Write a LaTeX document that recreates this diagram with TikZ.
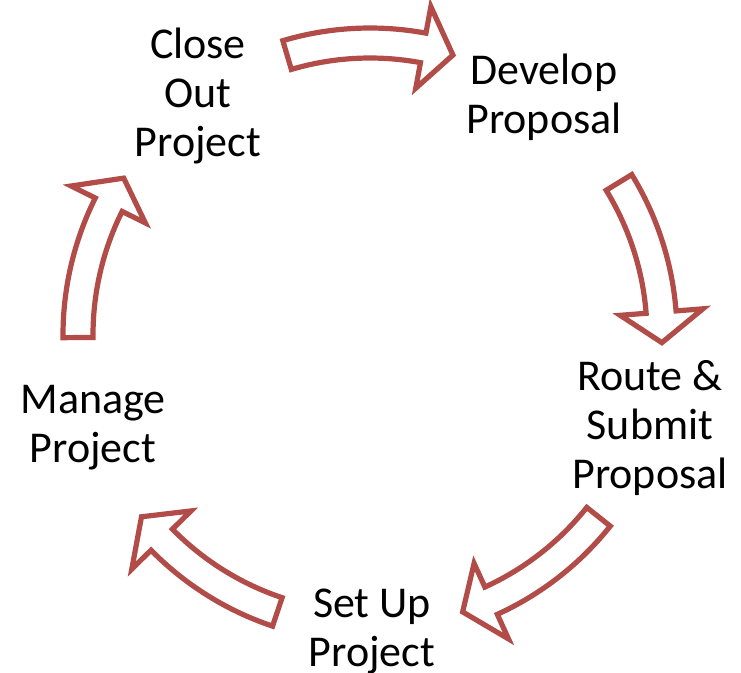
\documentclass[tikz,border=0pt]{standalone}
\usepackage{fontspec}
\setmainfont{Carlito}
\definecolor{arrowred}{RGB}{178,76,72}
\tikzset{
  stage/.style={align=center, inner sep=0pt, font=\fontsize{44}{49}\selectfont},
  cyclearrow/.style={draw=arrowred, fill=white, line width=5.2pt, line join=miter}
}
\begin{document}
\begin{tikzpicture}[x=1pt, y=1pt]
    % 画布大小
    \useasboundingbox (0,0) rectangle (741,-672);

    % 圆心与半径
    \coordinate (O) at (370,-335);
    \pgfmathsetmacro{\rm}{292}  % 箭头中线半径
    \pgfmathsetmacro{\ri}{277}  % 箭身内侧
    \pgfmathsetmacro{\ro}{307}  % 箭身外侧
    \pgfmathsetmacro{\hi}{251}  % 箭头内侧
    \pgfmathsetmacro{\ho}{334}  % 箭头外侧

    % 五个步骤
    \node[stage] (close)   at (198,-96)  {Close\\Out\\Project};
    \node[stage] (develop) at (544,-97)  {Develop\\Proposal};
    \node[stage] (route)   at (650,-428) {Route \&\\Submit\\Proposal};
    \node[stage] (setup)   at (372,-631) {Set Up\\Project};
    \node[stage] (manage)  at (93,-428)  {Manage\\Project};

    % 弯曲的空心箭头 (中心角)
    \foreach \c in {90, 15, -55, -125, 164} {
        \pgfmathsetmacro{\ta}{\c + 16.5}  % 箭尾
        \pgfmathsetmacro{\pa}{\c - 16.5}  % 箭尖
        \pgfmathsetmacro{\ha}{\pa + 6}    % 箭头根部
        \draw[cyclearrow, shift={(O)}]
            (\ta:\ro) arc[start angle=\ta, end angle=\ha, radius=\ro]
            -- (\ha:\ho) -- (\pa:\rm) -- (\ha:\hi) -- (\ha:\ri)
            arc[start angle=\ha, end angle=\ta, radius=\ri] -- cycle;
    }
\end{tikzpicture}
\end{document}
